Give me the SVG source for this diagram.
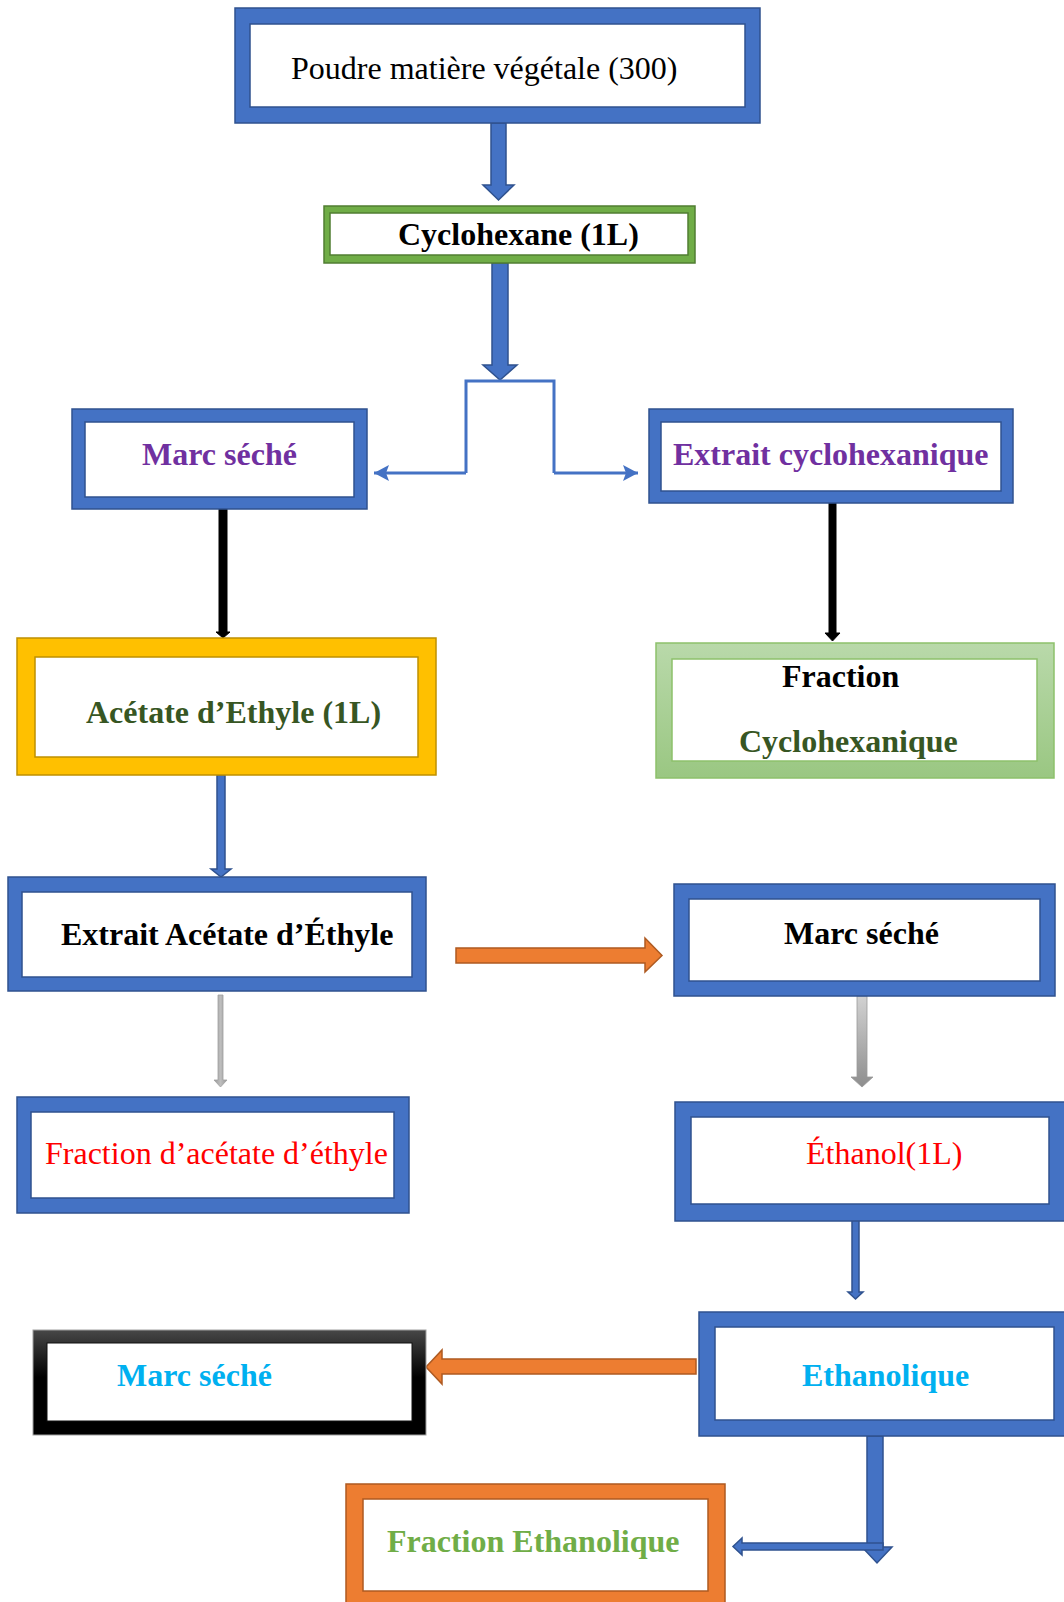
<svg xmlns="http://www.w3.org/2000/svg" width="1064" height="1602" viewBox="0 0 1064 1602">
<defs>
<linearGradient id="gGreen" x1="0" y1="0" x2="0" y2="1"><stop offset="0" stop-color="#B9D9AA"/><stop offset="1" stop-color="#9AC782"/></linearGradient>
<linearGradient id="gBlack" x1="0" y1="0" x2="0" y2="1"><stop offset="0" stop-color="#474747"/><stop offset="0.45" stop-color="#000"/><stop offset="1" stop-color="#000"/></linearGradient>
<linearGradient id="gGrayV" x1="0" y1="0" x2="0" y2="1"><stop offset="0" stop-color="#D2D2D2"/><stop offset="1" stop-color="#8E8E8E"/></linearGradient>
<linearGradient id="gGrayH" x1="0" y1="0" x2="1" y2="0"><stop offset="0" stop-color="#9A9A9A"/><stop offset="0.5" stop-color="#BDBDBD"/><stop offset="1" stop-color="#9A9A9A"/></linearGradient>
<marker id="mh" markerUnits="userSpaceOnUse" markerWidth="18" markerHeight="18" refX="15" refY="8" orient="auto"><path d="M0,0 L15,8 L0,16 L3,8 Z" fill="#4472C4"/></marker>
</defs>
<style>
.ob{fill:#4472C4;stroke:#2F528F;stroke-width:1.5}
.in{fill:#fff;stroke:#2F528F;stroke-width:1.5}
.t{font-family:"Liberation Serif","Times New Roman",serif;font-size:32px}
.b{font-weight:bold}
.ab{fill:#4472C4;stroke:#2F528F;stroke-width:1.5}
.ao{fill:#ED7D31;stroke:#AE5A21;stroke-width:1.5}
.ak{fill:#000;stroke:#000;stroke-width:1}
</style>
<rect width="1064" height="1602" fill="#fff"/>

<g id="connectors">
<polygon class="ab" points="491,123 506,123 506,185 514,185 498.5,200 483,185 491,185"/>
<polygon class="ab" points="492,263 508,263 508,365 517,365 500,380 483,365 492,365"/>
<path d="M466,473 L466,381 L554,381 L554,473" fill="none" stroke="#4472C4" stroke-width="3"/>
<path d="M466,473 L374,473" fill="none" stroke="#4472C4" stroke-width="3" marker-end="url(#mh)"/>
<path d="M554,473 L638,473" fill="none" stroke="#4472C4" stroke-width="3" marker-end="url(#mh)"/>
<polygon class="ak" points="219,509 227,509 227,632 230,632 223,638 216,632 219,632"/>
<polygon class="ak" points="829,503 836,503 836,633 840,633 832.5,641 825,633 829,633"/>
<polygon class="ab" points="217,775 225,775 225,869 231,869 221,877 211,869 217,869"/>
<polygon class="ao" points="456,948 645,948 645,938 662,955.5 645,972 645,963 456,963"/>
<polygon fill="url(#gGrayH)" stroke="#A0A0A0" stroke-width="0.8" points="218,995 223,995 223,1080 227,1080 220.5,1087 214,1080 218,1080"/>
<polygon fill="url(#gGrayV)" stroke="#9A9A9A" stroke-width="0.8" points="857,996 867,996 867,1077 873,1077 862,1087 851,1077 857,1077"/>
<polygon class="ab" points="852,1220 859,1220 859,1292 863,1292 855.5,1299 848,1292 852,1292"/>
<polygon class="ao" points="696,1359 442,1359 442,1350 426,1367 442,1384 442,1374 696,1374"/>
<polygon class="ab" points="867,1436 883,1436 883,1547 892,1547 877,1563 862,1547 867,1547"/>
<polygon class="ab" points="883,1543 742,1543 742,1538 733,1546.5 742,1555 742,1550 883,1550"/>
</g>

<g id="n-poudre">
<rect class="ob" x="235" y="8" width="525" height="115"/>
<rect class="in" x="250" y="24" width="495" height="83"/>
<text class="t" x="291" y="79">Poudre matière végétale (300)</text>
</g>

<g id="n-cyclohexane">
<rect x="324" y="206" width="371" height="57" fill="#70AD47" stroke="#507E32" stroke-width="1.5"/>
<rect x="330" y="213" width="358" height="42" fill="#fff" stroke="#507E32" stroke-width="1.5"/>
<text class="t b" x="398" y="245">Cyclohexane (1L)</text>
</g>

<g id="n-marc1">
<rect class="ob" x="72" y="409" width="295" height="100"/>
<rect class="in" x="85" y="422" width="269" height="75"/>
<text class="t b" x="142" y="465" fill="#7030A0">Marc séché</text>
</g>

<g id="n-extrait-cyclo">
<rect class="ob" x="649" y="409" width="364" height="94"/>
<rect class="in" x="661" y="422" width="340" height="69"/>
<text class="t b" x="673" y="465" fill="#7030A0">Extrait cyclohexanique</text>
</g>

<g id="n-acetate">
<rect x="17" y="638" width="419" height="137" fill="#FFC000" stroke="#BF9000" stroke-width="1.5"/>
<rect x="35" y="657" width="383" height="100" fill="#fff" stroke="#BF9000" stroke-width="1.5"/>
<text class="t b" x="86" y="723" fill="#375623">Acétate d’Ethyle (1L)</text>
</g>

<g id="n-fraction-cyclo">
<rect x="656" y="643" width="398" height="135" fill="url(#gGreen)" stroke="#8DC16B" stroke-width="1.5"/>
<rect x="672" y="659" width="365" height="102" fill="#fff" stroke="#8DC16B" stroke-width="1.5"/>
<text class="t b" x="782" y="687">Fraction</text>
<text class="t b" x="739" y="752" fill="#375623">Cyclohexanique</text>
</g>

<g id="n-extrait-acetate">
<rect class="ob" x="8" y="877" width="418" height="114"/>
<rect class="in" x="22" y="892" width="390" height="85"/>
<text class="t b" x="61" y="945">Extrait Acétate d’Éthyle</text>
</g>

<g id="n-marc2">
<rect class="ob" x="674" y="884" width="381" height="112"/>
<rect class="in" x="689" y="899" width="351" height="82"/>
<text class="t b" x="784" y="944">Marc séché</text>
</g>

<g id="n-fraction-acetate">
<rect class="ob" x="17" y="1097" width="392" height="116"/>
<rect class="in" x="31" y="1112" width="363" height="86"/>
<text class="t" x="45" y="1164" fill="#FF0000">Fraction d’acétate d’éthyle</text>
</g>

<g id="n-ethanol">
<rect class="ob" x="675" y="1102" width="395" height="119"/>
<rect class="in" x="691" y="1117" width="358" height="87"/>
<text class="t" x="806" y="1164" fill="#FF0000">Éthanol(1L)</text>
</g>

<g id="n-marc3">
<rect x="33" y="1330" width="393" height="105" fill="url(#gBlack)" stroke="#A0A0A0" stroke-width="1"/>
<rect x="47" y="1343" width="365" height="78" fill="#fff" stroke="#111" stroke-width="1"/>
<text class="t b" x="117" y="1386" fill="#00B0F0">Marc séché</text>
</g>

<g id="n-ethanolique">
<rect class="ob" x="699" y="1312" width="371" height="124"/>
<rect class="in" x="715" y="1327" width="339" height="93"/>
<text class="t b" x="802" y="1386" fill="#00B0F0">Ethanolique</text>
</g>

<g id="n-fraction-ethanolique">
<rect x="346" y="1484" width="379" height="130" fill="#ED7D31" stroke="#AE5A21" stroke-width="1.5"/>
<rect x="363" y="1499" width="345" height="92" fill="#fff" stroke="#AE5A21" stroke-width="1.5"/>
<text class="t b" x="387" y="1552" fill="#70AD47">Fraction Ethanolique</text>
</g>
</svg>
